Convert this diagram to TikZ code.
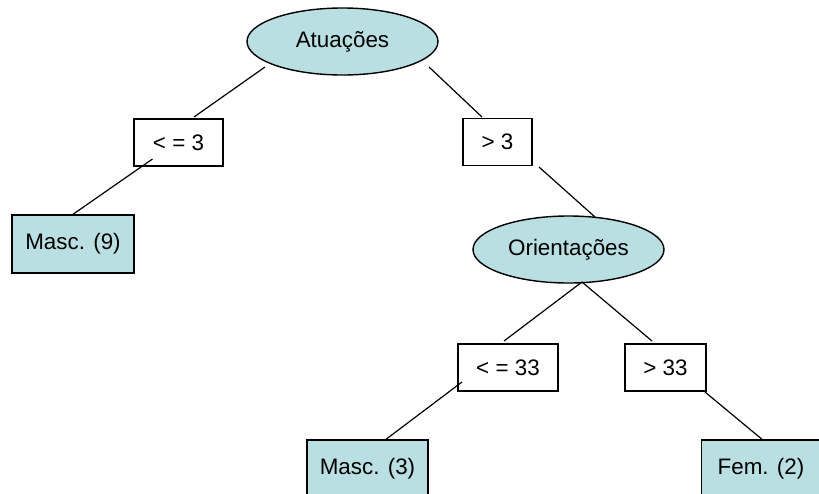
\documentclass[tikz,border=0pt]{standalone}
\usepackage{fontspec}
\setmainfont{Liberation Sans}
\usepackage{xcolor}
\usepackage{tikz}
\usetikzlibrary{shapes.geometric,calc}
\definecolor{azul}{RGB}{185,223,226}

\begin{document}
\begin{tikzpicture}[x=0.5pt,y=-0.5pt, line width=0.6pt,
	every node/.style={font=\fontsize{11.2}{13}\selectfont, inner sep=0pt},
	teste/.style={ellipse, draw, line width=0.7pt, fill=azul, minimum width=95.5pt, minimum height=33.5pt},
	ramo/.style={rectangle, draw, line width=0.7pt, fill=white, minimum height=23.5pt},
	folha/.style={rectangle, draw, line width=0.7pt, fill=azul, minimum height=29pt}]
\useasboundingbox (0,0) rectangle (819,493);
\clip (0,0) rectangle (819,493);
% arestas
\coordinate (atuP) at (342.5,41.5);
\coordinate (le3P) at (178.5,142.5);
\coordinate (gt3P) at (497.5,142);
\coordinate (oriP) at (568.5,249.5);
\coordinate (le33P) at (508,367.5);
\coordinate (gt33P) at (665.5,367.5);
\draw ($(atuP)+(-77.5,25.5)$) -- ($(le3P)+(15.5,-25.5)$);
\draw ($(atuP)+(86.5,25.5)$) -- ($(gt3P)+(-15.5,-25)$);
% nos
\node [teste] (atu) at (atuP) {Atuações};
\node [ramo, minimum width=44.5pt] (le3) at (le3P) {< = 3};
\node [ramo, minimum width=34.5pt] (gt3) at (gt3P) {> 3};
\node [folha, minimum width=61pt] (m9) at (73,244) {Masc. (9)};
\node [teste] (ori) at (oriP) {Orientações};
\node [ramo, minimum width=50pt] (le33) at (le33P) {< = 33};
\node [ramo, minimum width=40.5pt] (gt33) at (gt33P) {> 33};
\node [folha, minimum width=60.5pt] (m3) at (367.5,469) {Masc. (3)};
\node [folha, minimum width=59.5pt] (f2) at (761,469) {Fem. (2)};
\draw ($(le3)+(-26,16.5)$) -- (m9.north);
\draw ($(gt3)+(41.5,25)$) -- ($(ori)+(26.5,-32.5)$);
\draw ($(ori)+(13.5,32.5)$) -- ($(le33)+(-4,-26.5)$);
\draw ($(ori)+(13.5,32.5)$) -- ($(gt33)+(-13.5,-26.5)$);
\draw ($(le33)+(-46,14.5)$) -- ($(m3.north)+(18.5,0)$);
\draw ($(gt33)+(39.5,24.5)$) -- ($(f2.north)+(1,0)$);
\end{tikzpicture}
\end{document}
